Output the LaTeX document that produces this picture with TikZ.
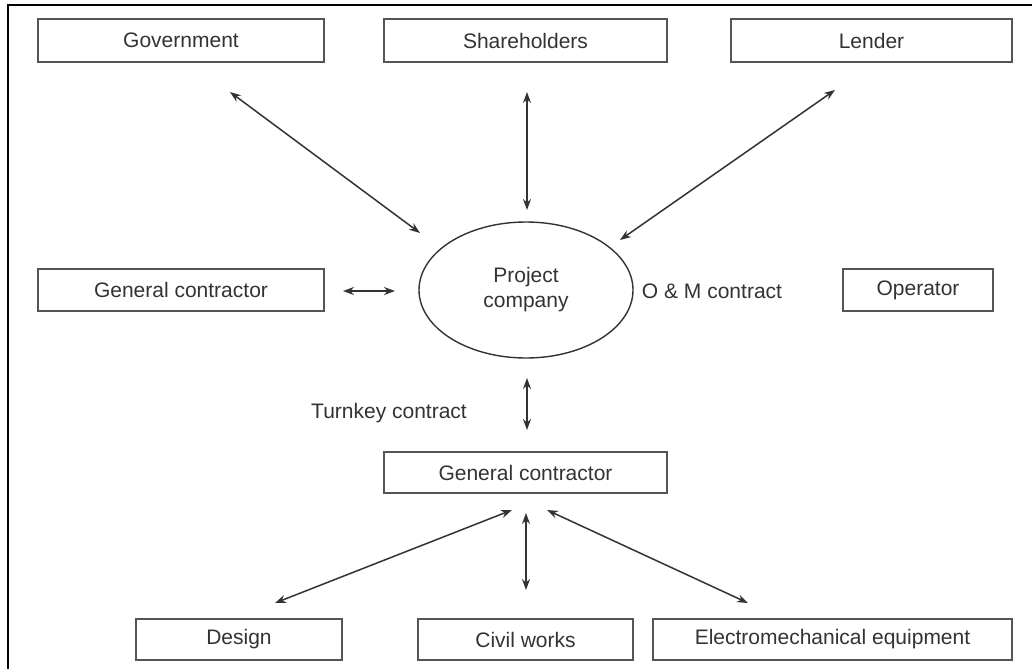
\documentclass[tikz,border=0pt]{standalone}
\usepackage{fontspec}
\setmainfont{Liberation Sans}
\usetikzlibrary{arrows.meta,shapes.geometric}
\definecolor{txt}{HTML}{333333}
\definecolor{edge}{HTML}{555555}
\begin{document}
\begin{tikzpicture}[x=1pt,y=-1pt,
  every node/.style={text=txt,font=\fontsize{21}{25}\selectfont},
  box/.style={draw=edge,line width=1.6pt,rectangle,inner sep=0pt,minimum height=42pt},
  oval/.style={draw=black!80,line width=1.4pt,ellipse,inner sep=0pt,minimum width=214pt,minimum height=136pt,align=center},
  lbl/.style={inner sep=0pt},
  link/.style={draw=black!80,line width=1.5pt,{Stealth[length=11pt,width=8pt]}-{Stealth[length=11pt,width=8pt]}}]
\useasboundingbox (0,0) rectangle (1032,669);
\fill[white] (0,0) rectangle (1032,669);
\draw[line width=2.5pt,black] (8,669) -- (8,5) -- (1032,5);
% boxes
\node[box,minimum width=286pt,minimum height=43pt] (gov) at (181,40.5) {Government};
\node[box,minimum width=283pt,minimum height=43pt] (sh) at (525.5,40.5) {Shareholders};
\node[box,minimum width=281pt,minimum height=43pt] (len) at (871.5,40.5) {Lender};
\node[box,minimum width=286pt] (gcl) at (181,290) {General contractor};
\node[oval] (pc) at (526,290) {Project\\company};
\node[lbl] (om) at (712,291) {O \& M contract};
\node[box,minimum width=150pt] (op) at (918,290) {Operator};
\node[lbl] (tk) at (389,413) {Turnkey contract};
\node[box,minimum width=283pt,minimum height=41pt] (gcb) at (525.5,472.5) {General contractor};
\node[box,minimum width=206pt,minimum height=41pt] (des) at (239,639.5) {Design};
\node[box,minimum width=215pt,minimum height=41pt] (civ) at (525.5,639.5) {Civil works};
\node[box,minimum width=359pt,minimum height=41pt] (ele) at (832.5,639.5) {Electromechanical equipment};
% arrow end points
\coordinate (govA) at (230,92);  \coordinate (govB) at (420,233);
\coordinate (shA) at (527,92);   \coordinate (shB) at (527,210);
\coordinate (lenA) at (835,90);  \coordinate (lenB) at (620,240);
\coordinate (gclA) at (343,291); \coordinate (gclB) at (395,291);
\coordinate (tkA) at (527,378);  \coordinate (tkB) at (527,430);
\coordinate (desA) at (512,510); \coordinate (desB) at (275,603);
\coordinate (civA) at (526,513); \coordinate (civB) at (526,590);
\coordinate (eleA) at (547,510); \coordinate (eleB) at (748,603);
\draw[link] (govA) -- (govB);
\draw[link] (shA) -- (shB);
\draw[link] (lenA) -- (lenB);
\draw[link] (gclA) -- (gclB);
\draw[link] (tkA) -- (tkB);
\draw[link] (desA) -- (desB);
\draw[link] (civA) -- (civB);
\draw[link] (eleA) -- (eleB);
\end{tikzpicture}
\end{document}
